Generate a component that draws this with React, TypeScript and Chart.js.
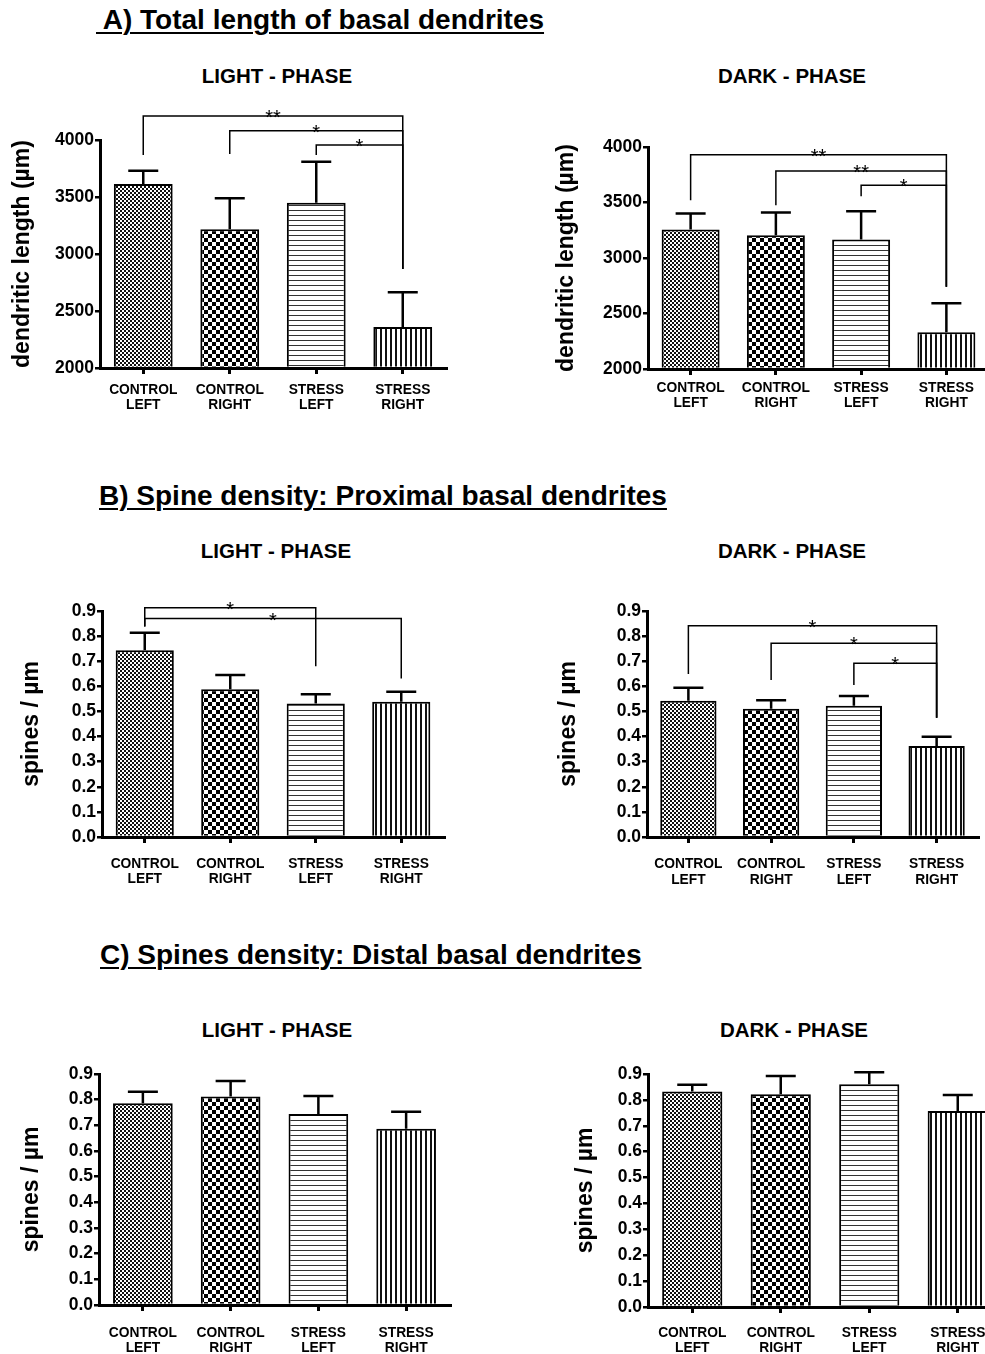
import React, { useEffect, useRef } from 'react';
import { Chart, registerables } from 'chart.js';

Chart.register(...registerables);

const FONT = "'Liberation Sans', Arial, Helvetica, sans-serif";

// ---------- DATA ----------
const categories = [
  ['CONTROL', 'LEFT'],
  ['CONTROL', 'RIGHT'],
  ['STRESS', 'LEFT'],
  ['STRESS', 'RIGHT'],
];

const lengthTicks = [2000, 2500, 3000, 3500, 4000];
const densityTicks = [0, 0.1, 0.2, 0.3, 0.4, 0.5, 0.6, 0.7, 0.8, 0.9];

const lengthLightMeans = [3614, 3217, 3450, 2360];
const lengthLightSem = [117, 272, 360, 304];
const lengthDarkMeans = [3257, 3206, 3167, 2332];
const lengthDarkSem = [144, 204, 255, 261];

const proxLightMeans = [0.744, 0.588, 0.532, 0.539];
const proxLightSem = [0.069, 0.057, 0.036, 0.039];
const proxDarkMeans = [0.543, 0.511, 0.523, 0.362];
const proxDarkSem = [0.051, 0.034, 0.039, 0.037];

const distLightMeans = [0.786, 0.812, 0.744, 0.687];
const distLightSem = [0.045, 0.061, 0.07, 0.066];
const distDarkMeans = [0.832, 0.822, 0.86, 0.757];
const distDarkSem = [0.026, 0.07, 0.047, 0.062];

// significance brackets: [fromIndex, toIndex, bracketY, leftLegEndY, rightLegEndY, label]
const lengthLightBrackets = [
  [0, 3, 4210, 3868, 2868, '**'],
  [1, 3, 4082, 3877, 2868, '*'],
  [2, 3, 3956, 3868, 2868, '*'],
];
const lengthDarkBrackets = [
  [0, 3, 3931, 3520, 2742, '**'],
  [1, 3, 3784, 3476, 2742, '**'],
  [2, 3, 3655, 3556, 2742, '*'],
];
const proxLightBrackets = [
  [0, 2, 0.913, 0.838, 0.68, '*'],
  [0, 3, 0.87, 0.838, 0.631, '*'],
];
const proxDarkBrackets = [
  [0, 3, 0.841, 0.649, 0.475, '*'],
  [1, 3, 0.772, 0.625, 0.475, '*'],
  [2, 3, 0.692, 0.605, 0.475, '*'],
];

const sectionTitles = [
  ' A) Total length of basal dendrites',
  'B) Spine density: Proximal basal dendrites',
  'C) Spines density: Distal basal dendrites',
];
const phaseTitles = ['LIGHT - PHASE', 'DARK - PHASE'];
const lengthAxisTitle = 'dendritic length (\u00b5m)';
const densityAxisTitle = 'spines / \u00b5m';

// ---------- PATTERNS ----------
function makePattern(kind: string) {
  const c = document.createElement('canvas');
  const ctx = c.getContext('2d')!;
  if (kind === 'fine') {
    c.width = 4; c.height = 4;
    ctx.fillStyle = '#fff'; ctx.fillRect(0, 0, 4, 4);
    ctx.fillStyle = '#111';
    ctx.fillRect(0, 0, 2, 2); ctx.fillRect(2, 2, 2, 2);
  } else if (kind === 'coarse') {
    c.width = 8; c.height = 8;
    ctx.fillStyle = '#fff'; ctx.fillRect(0, 0, 8, 8);
    ctx.fillStyle = '#000';
    ctx.fillRect(0, 0, 4, 4); ctx.fillRect(4, 4, 4, 4);
  } else if (kind === 'hlines') {
    c.width = 5; c.height = 5;
    ctx.fillStyle = '#fff'; ctx.fillRect(0, 0, 5, 5);
    ctx.fillStyle = '#333'; ctx.fillRect(0, 0, 5, 1);
  } else {
    c.width = 5; c.height = 5;
    ctx.fillStyle = '#fff'; ctx.fillRect(0, 0, 5, 5);
    ctx.fillStyle = '#111'; ctx.fillRect(0, 0, 2, 5);
  }
  return ctx.createPattern(c, 'repeat');
}

type Box = { left: number; top: number; width: number; height: number };
type Area = { left: number; top: number; right: number; bottom: number };

type PanelCfg = {
  canvas: Box;
  area: Area;
  yTitleX: number;
  labelPad: number;
  means: number[];
  sems: number[];
  brackets: any[];
  ticks: number[];
  yTitle: string;
  decimals: number;
};

function BarPanel({ cfg }: { cfg: PanelCfg }) {
  const ref = useRef<HTMLCanvasElement>(null);
  useEffect(() => {
    const { canvas, area, means, sems, brackets, ticks } = cfg;
    const patterns = ['fine', 'coarse', 'hlines', 'vlines'].map(makePattern);
    const yMin = ticks[0];
    const yMax = ticks[ticks.length - 1];
    const step = ticks[1] - ticks[0];

    const annot = {
      id: 'annot',
      afterDatasetsDraw(chart: any) {
        const ctx = chart.ctx;
        const ys = chart.scales.y;
        const meta = chart.getDatasetMeta(0);
        ctx.save();
        ctx.strokeStyle = '#000';
        ctx.lineWidth = 2.5;
        meta.data.forEach((bar: any, i: number) => {
          const x = bar.x;
          const y0 = ys.getPixelForValue(means[i]);
          const y1 = ys.getPixelForValue(means[i] + sems[i]);
          ctx.beginPath();
          ctx.moveTo(x, y0);
          ctx.lineTo(x, y1);
          ctx.moveTo(x - 15, y1);
          ctx.lineTo(x + 15, y1);
          ctx.stroke();
        });
        ctx.restore();
      },
      afterDraw(chart: any) {
        const ctx = chart.ctx;
        const xs = chart.scales.x;
        const ys = chart.scales.y;
        ctx.save();
        ctx.strokeStyle = '#000';
        ctx.fillStyle = '#000';
        ctx.lineWidth = 1.5;
        ctx.font = `20px ${FONT}`;
        ctx.textAlign = 'center';
        ctx.textBaseline = 'alphabetic';
        for (const [a, b, yv, yl, yr, label] of brackets) {
          const x1 = xs.getPixelForValue(a);
          const x2 = xs.getPixelForValue(b);
          const y = ys.getPixelForValue(yv);
          ctx.beginPath();
          ctx.moveTo(x1, ys.getPixelForValue(yl));
          ctx.lineTo(x1, y);
          ctx.lineTo(x2, y);
          ctx.lineTo(x2, ys.getPixelForValue(yr));
          ctx.stroke();
          ctx.fillText(label, (x1 + x2) / 2, y + 8);
        }
        ctx.restore();
      },
    };

    const chart = new Chart(ref.current!, {
      type: 'bar',
      data: {
        labels: categories as any,
        datasets: [
          {
            data: means,
            backgroundColor: patterns as any,
            borderColor: '#000',
            borderWidth: 2,
            base: yMin,
            barPercentage: 0.68,
            categoryPercentage: 1,
          } as any,
        ],
      },
      options: {
        responsive: false,
        animation: false,
        devicePixelRatio: 1,
        layout: {
          padding: {
            left: 0,
            top: area.top - canvas.top,
            right: canvas.left + canvas.width - area.right,
            bottom: 0,
          },
        },
        plugins: {
          legend: { display: false },
          tooltip: { enabled: false },
          title: { display: false },
        },
        scales: {
          x: {
            type: 'category',
            offset: true,
            z: 1,
            grid: {
              display: true,
              drawOnChartArea: false,
              drawTicks: true,
              tickLength: 6,
              tickWidth: 3,
              lineWidth: 3,
              color: '#000',
              offset: false,
            },
            border: { display: true, color: '#000', width: 3 },
            ticks: {
              color: '#000',
              font: { family: FONT, size: 13.8, weight: 'bold', lineHeight: 1.1 },
              padding: cfg.labelPad,
              maxRotation: 0,
              minRotation: 0,
              autoSkip: false,
            },
            afterFit: (s: any) => {
              s.height = canvas.top + canvas.height - area.bottom;
            },
          },
          y: {
            type: 'linear',
            min: yMin,
            max: yMax,
            z: 1,
            grid: {
              display: true,
              drawOnChartArea: false,
              drawTicks: true,
              tickLength: 5,
              tickWidth: 2.5,
              lineWidth: 2.5,
              color: '#000',
            },
            border: { display: true, color: '#000', width: 3 },
            ticks: {
              stepSize: step,
              color: '#000',
              padding: 1,
              font: { family: FONT, size: 17.5, weight: 'bold' },
              callback: (v: any) => Number(v).toFixed(cfg.decimals),
            },
            title: {
              display: true,
              text: cfg.yTitle,
              color: '#000',
              font: { family: FONT, size: 23, weight: 'bold', lineHeight: 1.2 },
              padding: { top: cfg.yTitleX - canvas.left - 13.8, bottom: 0 },
            },
            afterFit: (s: any) => {
              s.width = area.left - canvas.left;
            },
          },
        },
      } as any,
      plugins: [annot],
    });
    return () => chart.destroy();
  }, []);
  const { canvas } = cfg;
  return (
    <canvas
      ref={ref}
      width={canvas.width}
      height={canvas.height}
      style={{
        position: 'absolute',
        left: canvas.left,
        top: canvas.top,
        width: canvas.width,
        height: canvas.height,
      }}
    />
  );
}

const panels: PanelCfg[] = [
  {
    canvas: { left: 0, top: 90, width: 470, height: 330 },
    area: { left: 100, top: 140, right: 446, bottom: 368 },
    yTitleX: 23, labelPad: 8.5,
    means: lengthLightMeans, sems: lengthLightSem, brackets: lengthLightBrackets,
    ticks: lengthTicks, yTitle: lengthAxisTitle, decimals: 0,
  },
  {
    canvas: { left: 540, top: 130, width: 460, height: 290 },
    area: { left: 648, top: 147, right: 989, bottom: 369 },
    yTitleX: 567, labelPad: 5.8,
    means: lengthDarkMeans, sems: lengthDarkSem, brackets: lengthDarkBrackets,
    ticks: lengthTicks, yTitle: lengthAxisTitle, decimals: 0,
  },
  {
    canvas: { left: 0, top: 590, width: 470, height: 300 },
    area: { left: 102, top: 611, right: 444, bottom: 837 },
    yTitleX: 32, labelPad: 13.8,
    means: proxLightMeans, sems: proxLightSem, brackets: proxLightBrackets,
    ticks: densityTicks, yTitle: densityAxisTitle, decimals: 1,
  },
  {
    canvas: { left: 540, top: 590, width: 460, height: 300 },
    area: { left: 647, top: 611, right: 978, bottom: 837 },
    yTitleX: 569, labelPad: 14,
    means: proxDarkMeans, sems: proxDarkSem, brackets: proxDarkBrackets,
    ticks: densityTicks, yTitle: densityAxisTitle, decimals: 1,
  },
  {
    canvas: { left: 0, top: 1050, width: 470, height: 304 },
    area: { left: 99, top: 1074, right: 450, bottom: 1305 },
    yTitleX: 32, labelPad: 14.5,
    means: distLightMeans, sems: distLightSem, brackets: [],
    ticks: densityTicks, yTitle: densityAxisTitle, decimals: 1,
  },
  {
    canvas: { left: 540, top: 1050, width: 480, height: 304 },
    area: { left: 648, top: 1074, right: 1002, bottom: 1307 },
    yTitleX: 586, labelPad: 12.8,
    means: distDarkMeans, sems: distDarkSem, brackets: [],
    ticks: densityTicks, yTitle: densityAxisTitle, decimals: 1,
  },
];

const sectionPos = [
  { left: 96, top: 6 },
  { left: 99, top: 481.5 },
  { left: 100, top: 940.5 },
];

const phasePos = [
  { x: 277, y: 76 }, { x: 792, y: 76 },
  { x: 276, y: 551 }, { x: 792, y: 551 },
  { x: 277, y: 1030 }, { x: 794, y: 1030 },
];

export default function App() {
  return (
    <div
      style={{
        position: 'absolute',
        left: 0,
        top: 0,
        width: 985,
        height: 1354,
        overflow: 'hidden',
        background: '#fff',
        fontFamily: FONT,
        color: '#000',
      }}
    >
      {sectionTitles.map((t, i) => (
        <div
          key={'s' + i}
          style={{
            position: 'absolute',
            left: sectionPos[i].left,
            top: sectionPos[i].top,
            fontSize: 28,
            lineHeight: '28px',
            fontWeight: 'bold',
            whiteSpace: 'pre',
            textDecoration: 'underline',
            textDecorationThickness: '2px',
            textUnderlineOffset: '3px',
          }}
        >
          {t}
        </div>
      ))}
      {phasePos.map((p, i) => (
        <div
          key={'p' + i}
          style={{
            position: 'absolute',
            left: p.x - 150,
            top: p.y - 10,
            width: 300,
            textAlign: 'center',
            fontSize: 20.5,
            lineHeight: '20.5px',
            fontWeight: 'bold',
            whiteSpace: 'pre',
          }}
        >
          {phaseTitles[i % 2]}
        </div>
      ))}
      {panels.map((cfg, i) => (
        <BarPanel key={'c' + i} cfg={cfg} />
      ))}
    </div>
  );
}
